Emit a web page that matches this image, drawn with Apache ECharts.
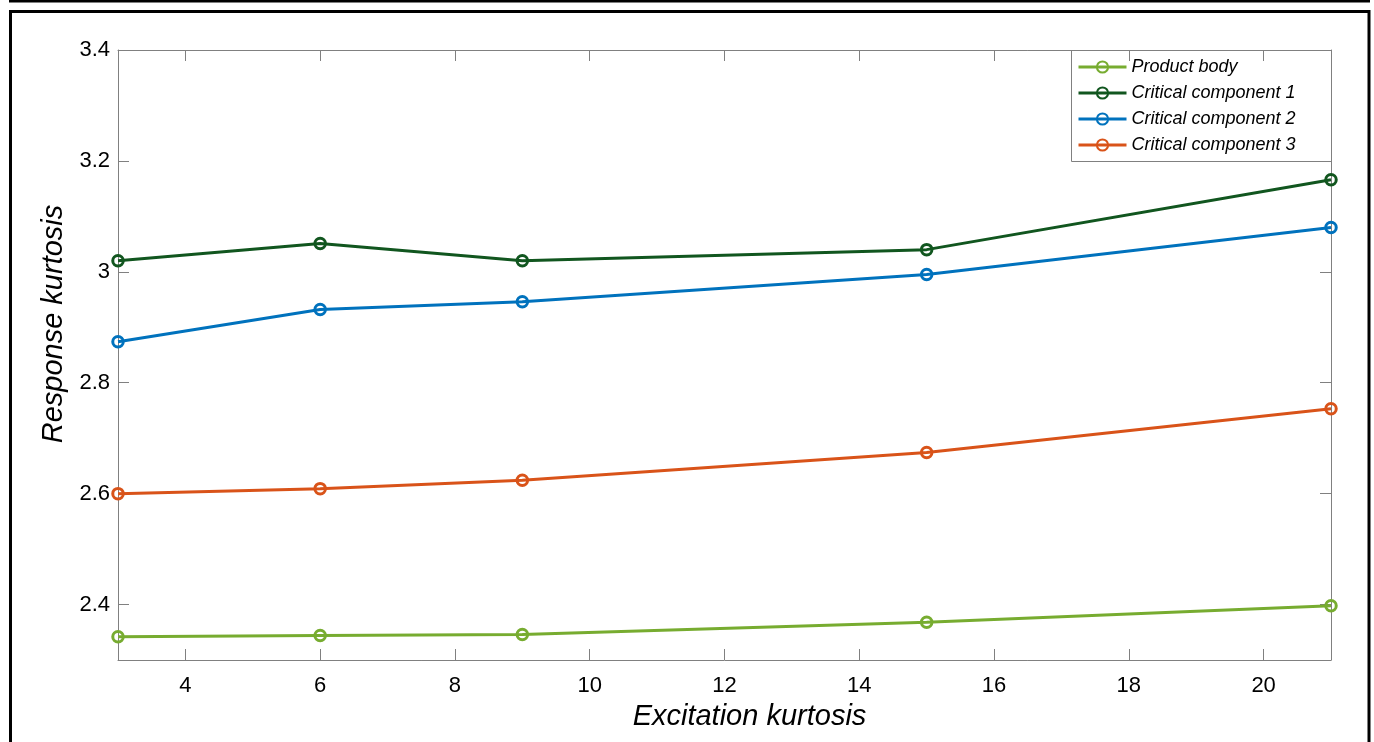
<!DOCTYPE html>
<html>
<head>
<meta charset="utf-8">
<script src="https://cdn.jsdelivr.net/npm/echarts@6/dist/echarts.min.js"></script>
<style>html,body{margin:0;padding:0;background:#fff}#c{width:1374px;height:742px}</style>
</head>
<body>
<div id="c"></div>
<script>
const excitation = [3, 6, 9, 15, 21];
const productBody = [2.342, 2.344, 2.346, 2.368, 2.398];
const critical1 = [3.020, 3.051, 3.020, 3.040, 3.166];
const critical2 = [2.874, 2.932, 2.946, 2.995, 3.080];
const critical3 = [2.600, 2.609, 2.624, 2.674, 2.753];
const seriesNames = ['Product body', 'Critical component 1', 'Critical component 2', 'Critical component 3'];
const xTicks = [4, 6, 8, 10, 12, 14, 16, 18, 20];
const yTicks = [2.4, 2.6, 2.8, 3.0, 3.2, 3.4];

const colors = ['#77AC30', '#11561f', '#0072BD', '#D95319'];
const allData = [productBody, critical1, critical2, critical3];
const FONT = '"Liberation Sans", Arial, sans-serif';
const AX = '#808080';

const chart = echarts.init(document.getElementById('c'), null, {renderer: 'canvas'});

function makeSeries(i) {
  return {
    name: seriesNames[i],
    type: 'line',
    data: excitation.map((x, k) => [x, allData[i][k]]),
    symbol: 'circle',
    symbolSize: 10.5,
    showAllSymbol: true,
    lineStyle: {color: colors[i], width: 3},
    itemStyle: {color: 'rgba(255,255,255,0)', borderColor: colors[i], borderWidth: 3},
    emphasis: {disabled: true},
    animation: false,
    z: 2 + i
  };
}

const baseAxisLine = {show: true, lineStyle: {color: AX, width: 1}};

chart.setOption({
  animation: false,
  grid: {left: 118, right: 43, top: 50, bottom: 82, containLabel: false},
  xAxis: [{
    type: 'value', min: 3, max: 21, position: 'bottom',
    name: 'Excitation kurtosis', nameLocation: 'middle', nameGap: 42,
    nameTextStyle: {fontFamily: FONT, fontSize: 29, fontStyle: 'italic', color: '#000', padding: [0, 0, 0, 50]},
    axisLine: baseAxisLine,
    axisTick: {show: true, inside: true, length: 11, customValues: xTicks, lineStyle: {color: AX}},
    axisLabel: {show: true, customValues: xTicks, margin: 15, fontFamily: FONT, fontSize: 22, color: '#000'},
    splitLine: {show: false}
  }, {
    type: 'value', min: 3, max: 21, position: 'top',
    axisLine: baseAxisLine,
    axisTick: {show: true, inside: true, length: 11, customValues: xTicks, lineStyle: {color: AX}},
    axisLabel: {show: false},
    splitLine: {show: false}
  }],
  yAxis: [{
    type: 'value', min: 2.3, max: 3.4, position: 'left',
    name: 'Response kurtosis', nameLocation: 'middle', nameGap: 48, nameRotate: 90,
    nameTextStyle: {fontFamily: FONT, fontSize: 29, fontStyle: 'italic', color: '#000', padding: [0, 0, 0, 62]},
    axisLine: baseAxisLine,
    axisTick: {show: true, inside: true, length: 11, customValues: yTicks, lineStyle: {color: AX}},
    axisLabel: {show: true, customValues: yTicks, margin: 8, fontFamily: FONT, fontSize: 22, color: '#000',
      formatter: v => String(+(+v).toFixed(1))},
    splitLine: {show: false}
  }, {
    type: 'value', min: 2.3, max: 3.4, position: 'right',
    axisLine: baseAxisLine,
    axisTick: {show: true, inside: true, length: 11, customValues: yTicks, lineStyle: {color: AX}},
    axisLabel: {show: false},
    splitLine: {show: false}
  }],
  legend: {
    orient: 'vertical', left: 1077, top: 58, padding: 0,
    itemWidth: 48, itemHeight: 14, itemGap: 8,
    data: seriesNames,
    lineStyle: {width: 3},
    textStyle: {fontFamily: FONT, fontSize: 18, fontStyle: 'italic', color: '#000', lineHeight: 18},
    selectedMode: false
  },
  graphic: [
    {type: 'rect', silent: true, z: 0, shape: {x: 1071.5, y: 50.5, width: 260, height: 111},
      style: {fill: '#fff', stroke: AX, lineWidth: 1}},
    {type: 'rect', silent: true, shape: {x: 9, y: 0, width: 1361, height: 2.5}, style: {fill: '#000'}},
    {type: 'rect', silent: true, shape: {x: 10.5, y: 11.5, width: 1358.5, height: 800},
      style: {fill: 'none', stroke: '#000', lineWidth: 3}}
  ],
  series: [0, 1, 2, 3].map(makeSeries)
});
</script>
</body>
</html>
